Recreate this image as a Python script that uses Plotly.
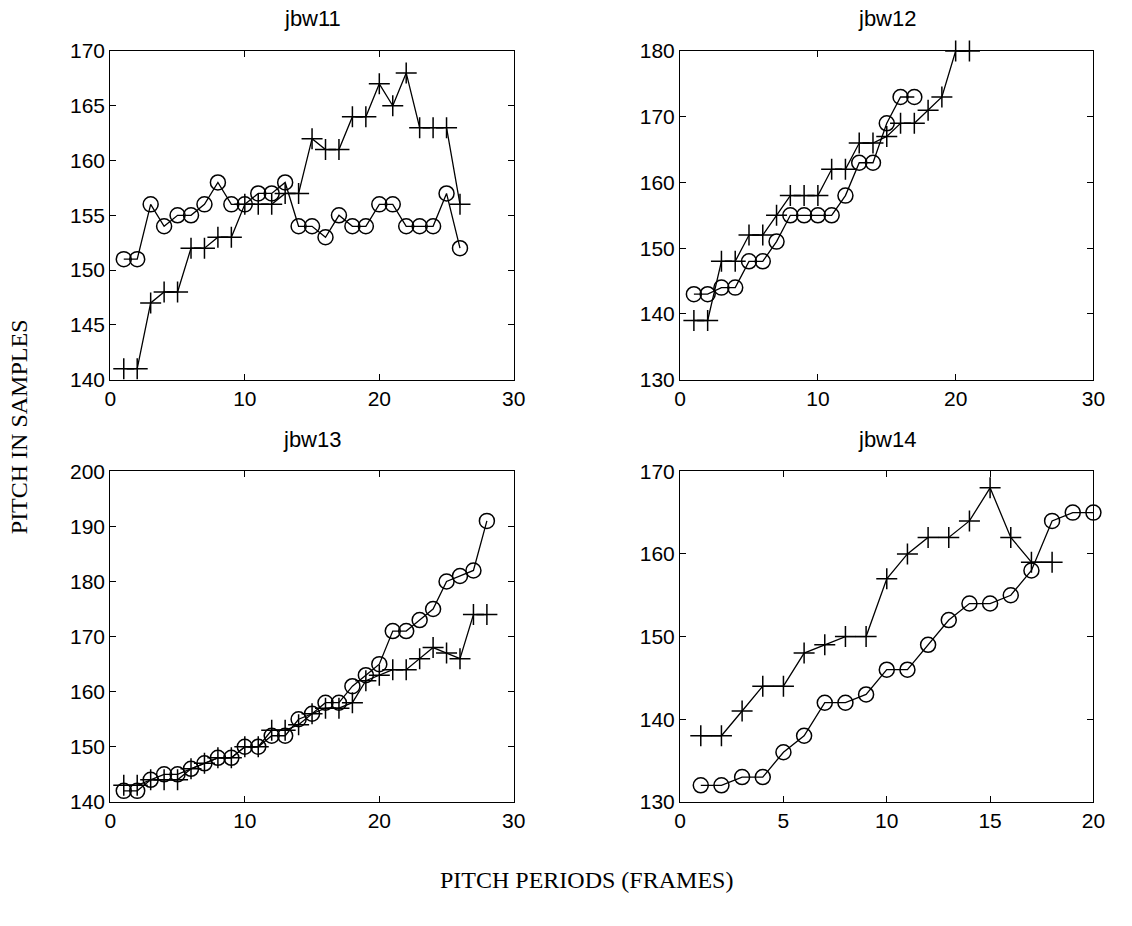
import plotly.graph_objects as go

# Pitch tracks for four utterances: "o" = first estimator, "+" = second estimator
titles = ["jbw11", "jbw12", "jbw13", "jbw14"]

circ11 = [151, 151, 156, 154, 155, 155, 156, 158, 156, 156, 157, 157, 158,
          154, 154, 153, 155, 154, 154, 156, 156, 154, 154, 154, 157, 152]
cross11 = [141, 141, 147, 148, 148, 152, 152, 153, 153, 156, 156, 156, 157,
           157, 162, 161, 161, 164, 164, 167, 165, 168, 163, 163, 163, 156]

circ12 = [143, 143, 144, 144, 148, 148, 151, 155, 155, 155, 155, 158, 163,
          163, 169, 173, 173]
cross12 = [139, 139, 148, 148, 152, 152, 155, 158, 158, 158, 162, 162, 166,
           166, 167, 169, 169, 171, 173, 180, 180]

circ13 = [142, 142, 144, 145, 145, 146, 147, 148, 148, 150, 150, 152, 152,
          155, 156, 158, 158, 161, 163, 165, 171, 171, 173, 175, 180, 181,
          182, 191]
cross13 = [143, 143, 144, 144, 144, 146, 147, 148, 148, 150, 150, 153, 153,
           154, 156, 157, 157, 158, 162, 163, 164, 164, 166, 168, 167, 166,
           174, 174]

circ14 = [132, 132, 133, 133, 136, 138, 142, 142, 143, 146, 146, 149, 152,
          154, 154, 155, 158, 164, 165, 165]
cross14 = [138, 138, 141, 144, 144, 148, 149, 150, 150, 157, 160, 162, 162,
           164, 168, 162, 159, 159]

y_ranges = [(140, 170), (130, 180), (140, 200), (130, 170)]
y_dticks = [5, 10, 10, 10]
x_ranges = [(0, 30), (0, 30), (0, 30), (0, 20)]
x_dticks = [10, 10, 10, 5]

series = [(circ11, cross11), (circ12, cross12), (circ13, cross13), (circ14, cross14)]

W, H = 1132, 926
# panel boxes in pixels: (left, right, top, bottom)
boxes = [(106, 516, 40, 377), (685, 1105, 40, 377),
         (106, 516, 471, 810), (685, 1105, 471, 810)]

fig = go.Figure()
line_style = dict(color="black", width=1.3)

for i, (circ, cross) in enumerate(series):
    xa = "x" if i == 0 else f"x{i + 1}"
    ya = "y" if i == 0 else f"y{i + 1}"
    fig.add_trace(go.Scatter(
        x=list(range(1, len(circ) + 1)), y=circ, mode="lines+markers",
        line=line_style, xaxis=xa, yaxis=ya, cliponaxis=False,
        marker=dict(symbol="circle-open", size=15, color="black",
                    line=dict(width=1.5, color="black")),
        showlegend=False))
    fig.add_trace(go.Scatter(
        x=list(range(1, len(cross) + 1)), y=cross, mode="lines+markers",
        line=line_style, xaxis=xa, yaxis=ya, cliponaxis=False,
        marker=dict(symbol="cross-thin-open", size=15, color="black",
                    line=dict(width=1.5, color="black")),
        showlegend=False))

sans = "Liberation Sans, Arial, sans-serif"
serif = "Liberation Serif, Times New Roman, serif"
tick_font = dict(family=sans, size=21, color="black")
axis_common = dict(showline=True, linecolor="black", linewidth=1.2, mirror="ticks",
                   ticks="inside", ticklen=6, tickwidth=1, tickcolor="black",
                   showgrid=False, zeroline=False, tickfont=tick_font)

annotations = []
for i, (l, r, t, b) in enumerate(boxes):
    suffix = "" if i == 0 else str(i + 1)
    xd = [l / W, r / W]
    yd = [1 - b / H, 1 - t / H]
    fig.update_layout(**{
        f"xaxis{suffix}": dict(domain=xd, range=list(x_ranges[i]), dtick=x_dticks[i],
                               tick0=0, anchor=f"y{suffix}", **axis_common),
        f"yaxis{suffix}": dict(domain=yd, range=list(y_ranges[i]), dtick=y_dticks[i],
                               tick0=0, anchor=f"x{suffix}", **axis_common),
    })
    annotations.append(dict(
        text=titles[i], x=(l + r) / 2 / W, y=1 - (t - 18) / H,
        xref="paper", yref="paper", xanchor="center", yanchor="bottom",
        showarrow=False, font=dict(family=sans, size=22, color="black")))

annotations.append(dict(
    text="PITCH IN SAMPLES", x=14 / W, y=1 - 425 / H, xref="paper", yref="paper",
    textangle=-90, showarrow=False, xanchor="center", yanchor="middle",
    font=dict(family=serif, size=24, color="black")))
annotations.append(dict(
    text="PITCH PERIODS (FRAMES)", x=590 / W, y=1 - 890 / H, xref="paper", yref="paper",
    showarrow=False, xanchor="center", yanchor="middle",
    font=dict(family=serif, size=24, color="black")))

fig.update_layout(
    width=W, height=H, margin=dict(l=0, r=0, t=0, b=0),
    paper_bgcolor="white", plot_bgcolor="white",
    annotations=annotations,
)

fig.write_html("out.html")
